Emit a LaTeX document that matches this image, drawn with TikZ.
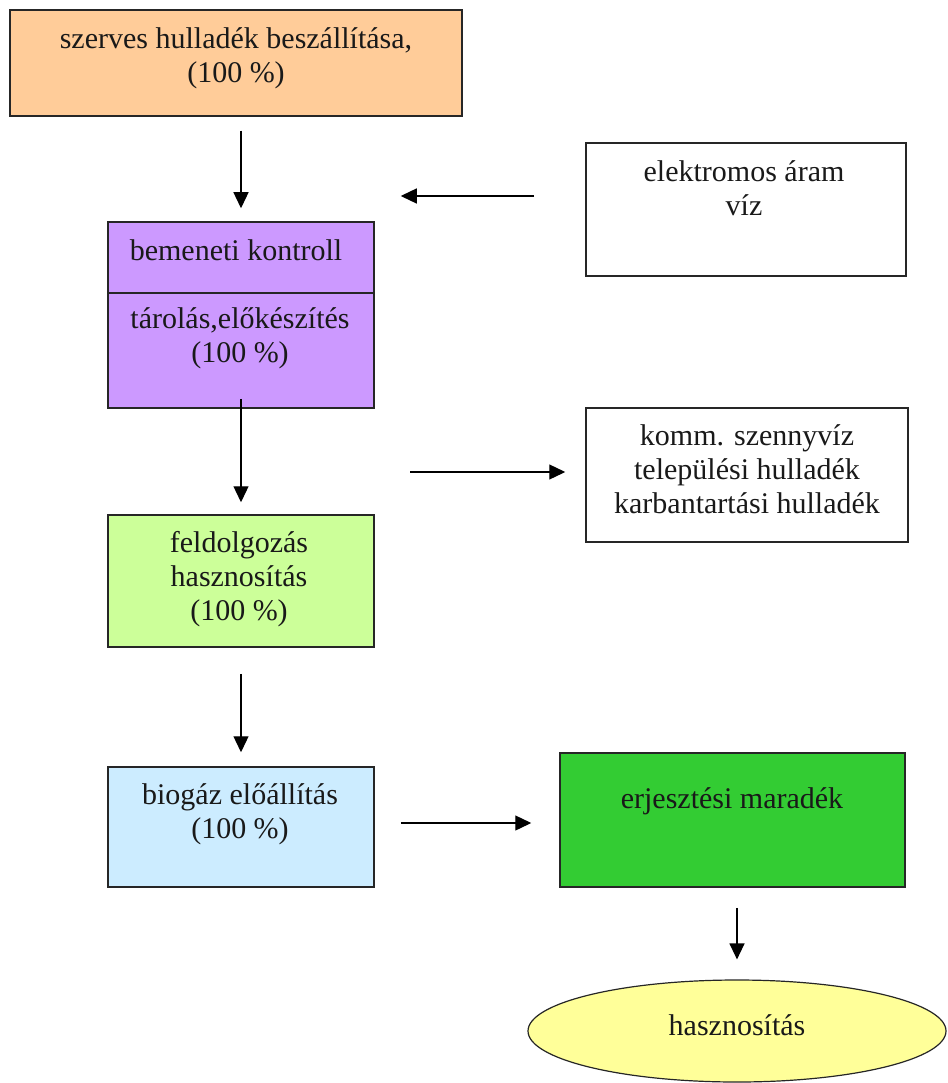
\documentclass[tikz,border=0pt]{standalone}
\usepackage{fontspec}
\setmainfont{Liberation Serif}
\usetikzlibrary{arrows.meta,shapes.geometric}
\definecolor{corange}{HTML}{FFCC99}
\definecolor{cpurple}{HTML}{CC99FF}
\definecolor{clgreen}{HTML}{CCFF99}
\definecolor{clblue}{HTML}{CCECFF}
\definecolor{cgreen}{HTML}{33CC33}
\definecolor{cyellow}{HTML}{FFFF99}
\tikzset{
  box/.style={draw=black!85, line width=1.5pt, inner sep=0pt},
  txt/.style={inner sep=0pt, align=center, anchor=base, text=black!90,
              font=\fontsize{30}{34}\selectfont},
  arr/.style={line width=1.3pt, -{Triangle[length=16pt,width=15pt]}},
}
\begin{document}
\begin{tikzpicture}[x=1pt,y=-1pt]
\useasboundingbox (0,0) rectangle (947,1083);
% boxes
\node[box, fill=corange, minimum width=452pt, minimum height=106pt] (b1) at (236,63) {};
\node[box, fill=cpurple, minimum width=266pt, minimum height=186pt] (b2) at (241,315) {};
\coordinate (div) at (241,293);
\draw[line width=1.5pt, draw=black!85] (b2.west |- div) -- (b2.east |- div);
\node[box, minimum width=320pt, minimum height=133pt] (e) at (746,209.5) {};
\node[box, minimum width=322pt, minimum height=134pt] (k) at (747,475) {};
\node[box, fill=clgreen, minimum width=266pt, minimum height=132pt] (b3) at (241,581) {};
\node[box, fill=clblue, minimum width=266pt, minimum height=120pt] (b4) at (241,827) {};
\node[box, fill=cgreen, minimum width=345pt, minimum height=134pt] (b5) at (732.5,820) {};
\node[box, ellipse, line width=1.2pt, fill=cyellow, minimum width=418pt, minimum height=102pt] (h) at (737,1031) {};
% texts (anchor=base is the baseline of the last line)
\node[txt] (t1) at (236,83) {szerves hulladék beszállítása,\\(100 \%)};
\node[txt] (t2a) at (236,260) {bemeneti kontroll};
\node[txt] (t2b) at (240,362) {tárolás,előkészítés\\(100 \%)};
\node[txt] (te) at (744,216) {elektromos áram\\víz};
\node[txt] (tk) at (747,513) {komm. szennyvíz\\települési hulladék\\karbantartási hulladék};
\node[txt] (t3) at (239,620) {feldolgozás\\hasznosítás\\(100 \%)};
\node[txt] (t4) at (240,838) {biogáz előállítás\\(100 \%)};
\node[txt] (t5) at (732,808) {erjesztési maradék};
\node[txt] (th) at (737,1035) {hasznosítás};
% connectors
\coordinate (ein) at (534,196);
\coordinate (wout) at (410,472);
\draw[arr, shorten <=14pt, shorten >=13pt] (b1.south -| b2.north) -- (b2.north);
\draw[arr, shorten >=26pt] (ein) -- (ein -| b2.east);
\draw[arr, shorten <=-10pt, shorten >=12pt] (b2.south) -- (b3.north);
\draw[arr, shorten >=20pt] (wout) -- (wout -| k.west);
\draw[arr, shorten <=26pt, shorten >=14pt] (b3.south) -- (b4.north);
\draw[arr, shorten <=26pt, shorten >=28pt] ([yshift=4pt]b4.east) -- ([yshift=4pt]b4.east -| b5.west);
\draw[arr, shorten <=20pt, shorten >=20pt] (b5.south -| h.north) -- (h.north);
\end{tikzpicture}
\end{document}
